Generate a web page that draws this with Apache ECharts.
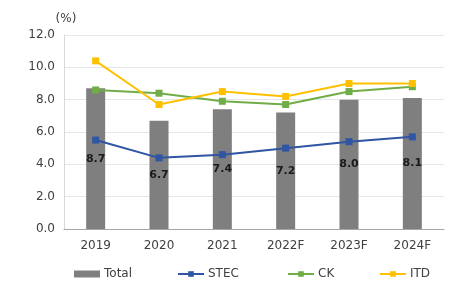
<!DOCTYPE html>
<html>
<head>
<meta charset="utf-8">
<script src="https://cdn.jsdelivr.net/npm/echarts@6/dist/echarts.min.js"></script>
<style>
  html, body { margin: 0; padding: 0; background: #fff; }
  #chart { width: 452px; height: 282px; }
</style>
</head>
<body>
<div id="chart"></div>
<script>
    // categories and values
    const years = ['2019', '2020', '2021', '2022F', '2023F', '2024F'];
    const total = [8.7, 6.7, 7.4, 7.2, 8.0, 8.1];
    const stec = [5.5, 4.4, 4.6, 5.0, 5.4, 5.7];
    const ck = [8.6, 8.4, 7.9, 7.7, 8.5, 8.8];
    const itd = [10.4, 7.7, 8.5, 8.2, 9.0, 9.0];
    const seriesNames = ['Total', 'STEC', 'CK', 'ITD'];

    const labelFont = 'DejaVu Sans, sans-serif';
    // left edge of each legend entry, as in the reference
    const legendLeft = [74, 177, 287, 379];

    function lineSeries(name, data, color) {
        return {
            name: name,
            type: 'line',
            data: data,
            symbol: 'rect',
            symbolSize: 7,
            lineStyle: { color: color, width: 2 },
            itemStyle: { color: color },
            z: 3
        };
    }

    const legends = seriesNames.map((name, i) => ({
        bottom: 2,
        left: legendLeft[i],
        padding: 0,
        itemWidth: 26,
        itemHeight: 7,
        textStyle: { color: '#404040', fontSize: 12, fontFamily: labelFont, padding: [0, 0, 0, -1] },
        data: [i === 0 ? { name: name, icon: 'rect' } : name]
    }));

    const chart = echarts.init(document.getElementById('chart'));
    chart.setOption({
        animation: false,
        textStyle: { fontFamily: labelFont },
        grid: { left: 64, right: 8, top: 35, bottom: 53 },
        legend: legends,
        xAxis: {
            type: 'category',
            data: years,
            axisLine: { lineStyle: { color: '#a6a6a6', width: 1 } },
            axisTick: { show: false },
            axisLabel: { color: '#404040', fontSize: 12, margin: 11 }
        },
        yAxis: {
            type: 'value',
            min: 0,
            max: 12,
            interval: 2,
            name: '(%)',
            nameLocation: 'end',
            nameGap: 10,
            nameTextStyle: { color: '#404040', fontSize: 12, align: 'center', padding: [0, 0, 0, 4] },
            axisLine: { show: true, lineStyle: { color: '#d9d9d9' } },
            axisTick: { show: false },
            axisLabel: {
                color: '#404040',
                fontSize: 12,
                margin: 9,
                formatter: v => v.toFixed(1)
            },
            splitLine: { lineStyle: { color: '#e6e6e6' } }
        },
        series: [
            {
                name: 'Total',
                type: 'bar',
                data: total,
                barWidth: 19,
                itemStyle: { color: '#7f7f7f' },
                label: {
                    show: true,
                    position: 'inside',
                    color: '#1a1a1a',
                    fontWeight: 'bold',
                    fontSize: 11,
                    formatter: p => p.value.toFixed(1)
                },
                z: 2
            },
            lineSeries('STEC', stec, '#2f55a4'),
            lineSeries('CK', ck, '#70ad47'),
            lineSeries('ITD', itd, '#ffc000')
        ]
    });
</script>
</body>
</html>
